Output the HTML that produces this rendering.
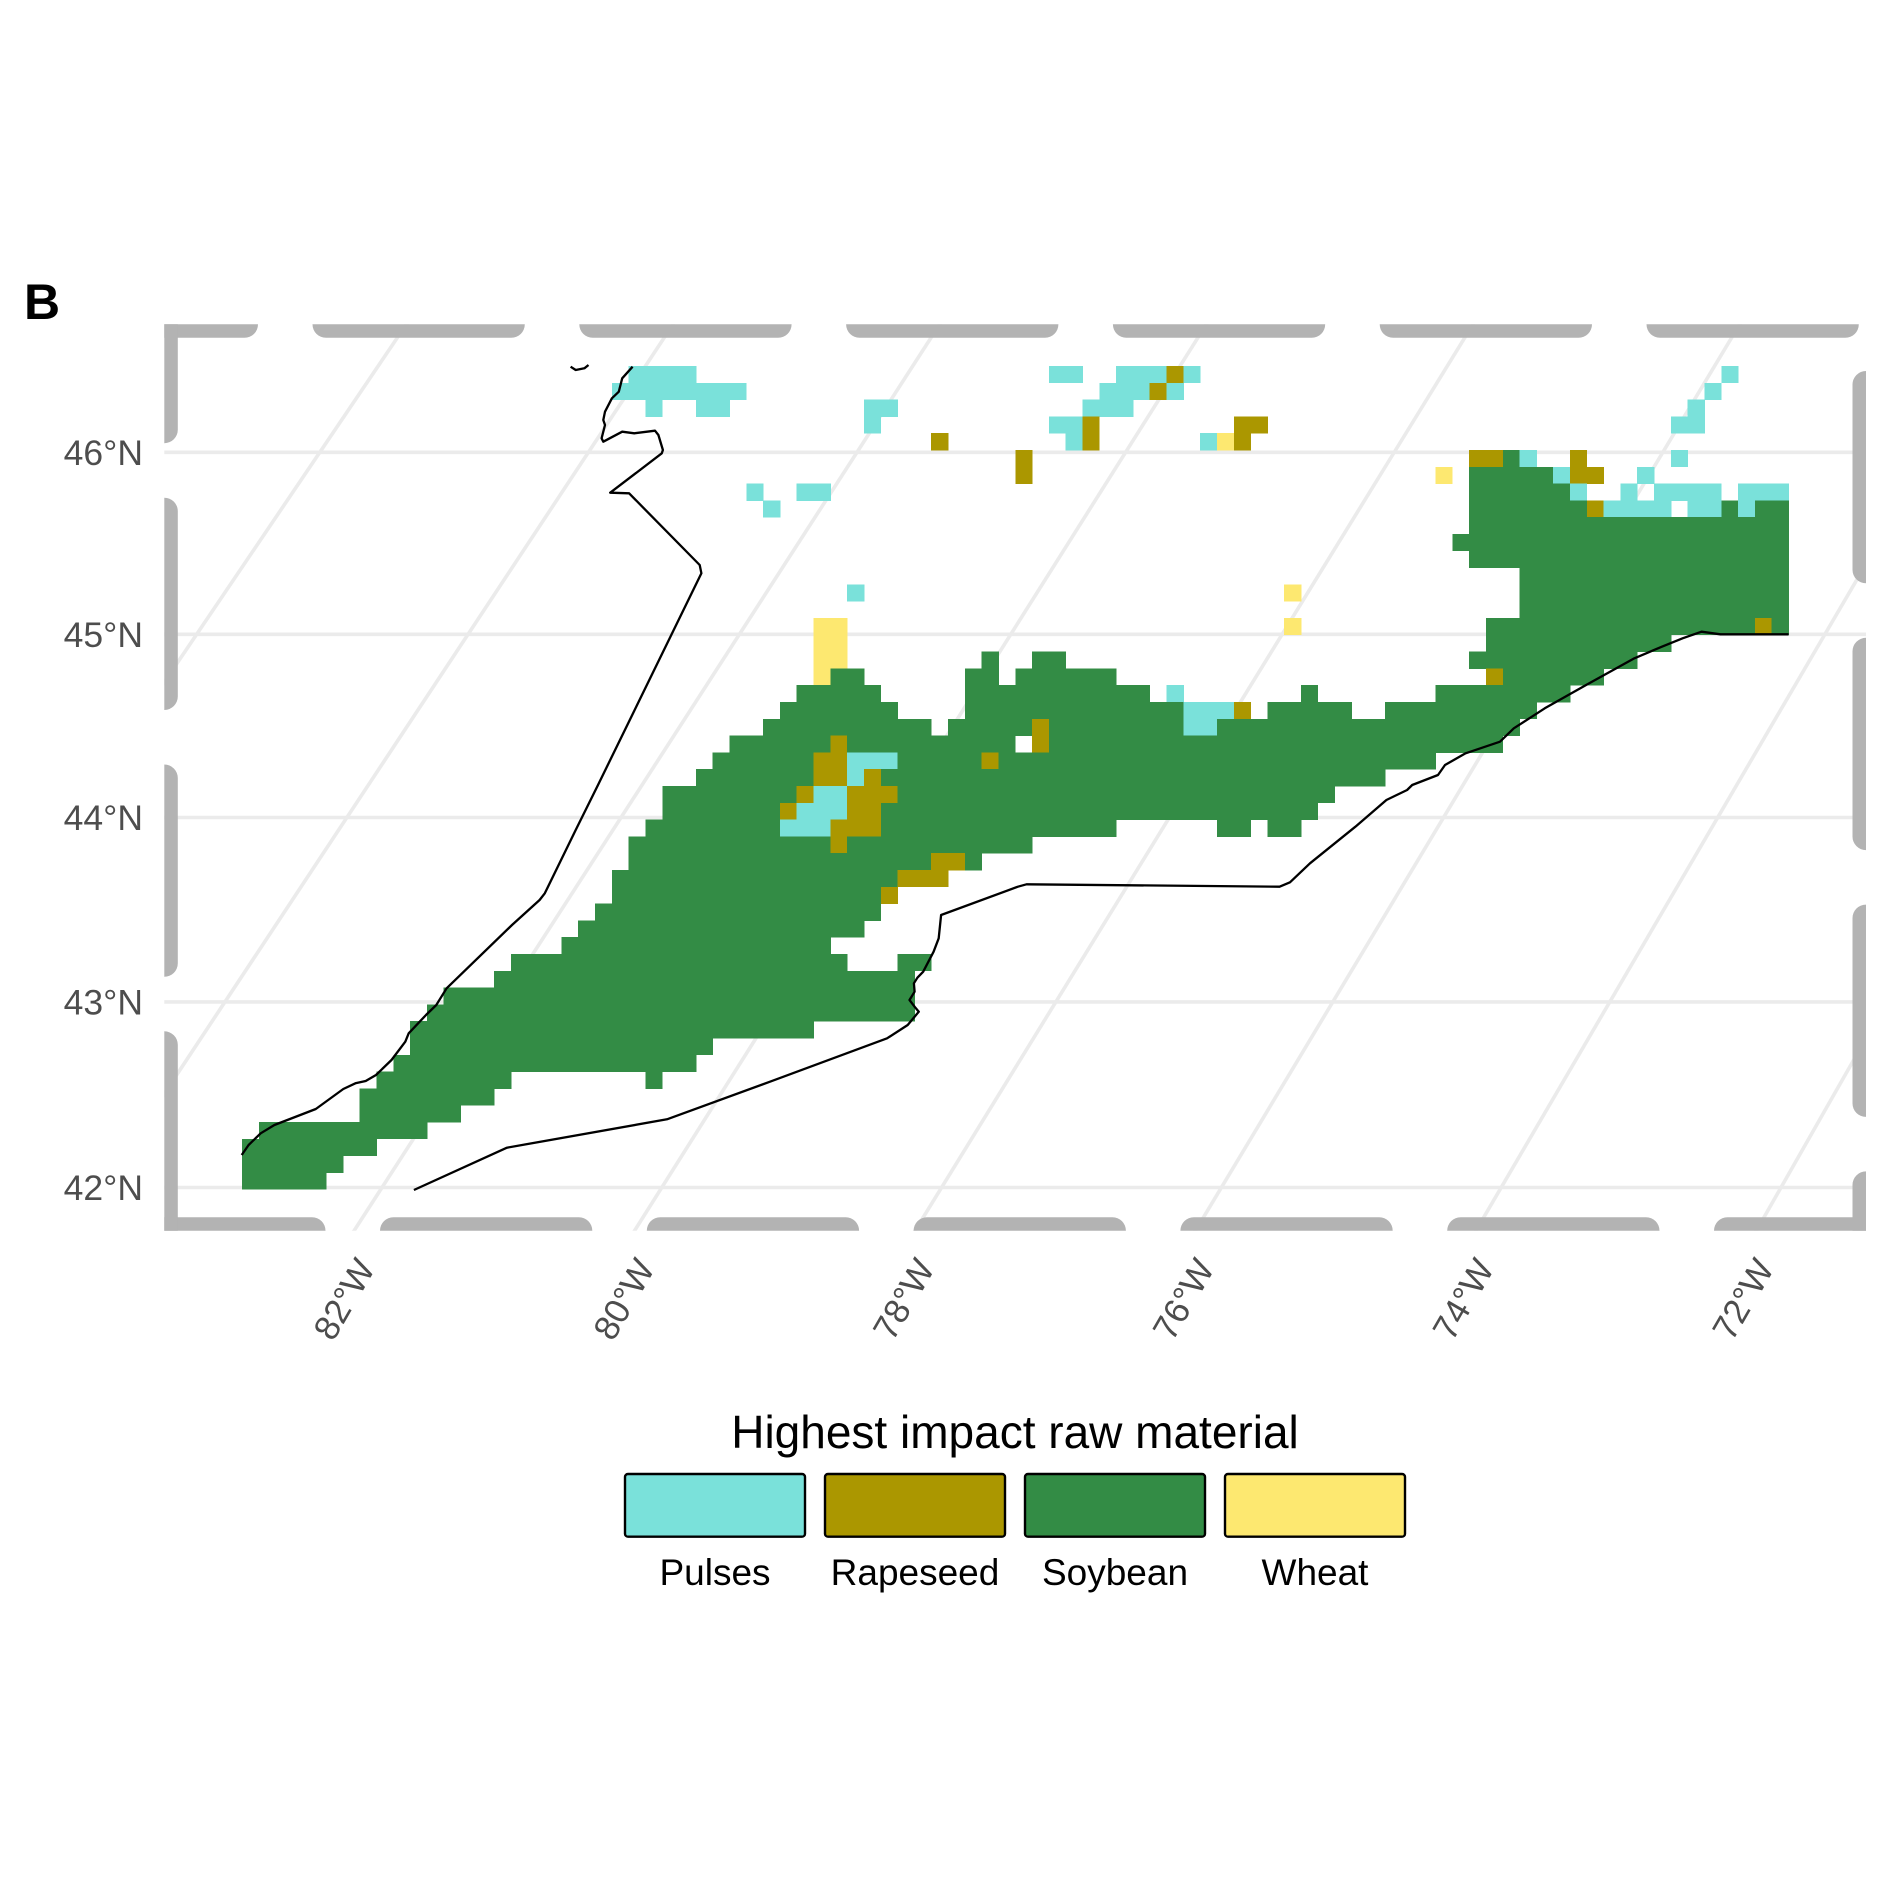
<!DOCTYPE html>
<html><head><meta charset="utf-8"><title>Highest impact raw material map</title>
<style>
html,body{margin:0;padding:0;background:#fff;}
svg{display:block;font-family:"Liberation Sans",Arial,sans-serif;}
</style></head>
<body>
<svg id="chart" xmlns="http://www.w3.org/2000/svg" width="1889" height="1889" viewBox="0 0 1889 1889">
<rect x="0" y="0" width="1889" height="1889" fill="#fff"/>
<defs><clipPath id="panelClip"><rect x="164.3" y="324.3" width="1701.7" height="906.4"/></clipPath></defs>
<text x="24" y="319" font-size="50" font-weight="bold" fill="#000">B</text>
<g id="grid" clip-path="url(#panelClip)"></g>
<g id="cells" clip-path="url(#panelClip)"></g>
<g id="bounds" clip-path="url(#panelClip)" fill="none" stroke="#000" stroke-width="2.3" stroke-linejoin="round"></g>
<g id="border" clip-path="url(#panelClip)" stroke="#b3b3b3" stroke-width="27" stroke-linecap="round" stroke-dasharray="185.3 81.5" fill="none"></g>
<g id="ylabels" font-size="35.5" fill="#4d4d4d" text-anchor="end"></g>
<g id="xlabels" font-size="35" fill="#4d4d4d" text-anchor="end"></g>
<g id="legend">
<text x="1015" y="1448" font-size="46" text-anchor="middle" fill="#000">Highest impact raw material</text>
</g>
</svg>
<script>
// ---- data ----
const latTicks = [46, 45, 44, 43, 42];
const latLabels = ["46°N", "45°N", "44°N", "43°N", "42°N"];
const lonTicks = [-82, -80, -78, -76, -74, -72];
const lonLabels = ["82°W", "80°W", "78°W", "76°W", "74°W", "72°W"];
const meridians = [-88, -86, -84, -82, -80, -78, -76, -74, -72, -70];
const categories = ["Pulses", "Rapeseed", "Soybean", "Wheat"];
const categoryCodes = ["P", "R", "S", "W"];
const categoryColors = ["#7ae1da", "#ab9700", "#338c45", "#fde870"];
// raster runs: [row, firstCol, lastCol, category]
const cellRuns = [
[0,23,26,'P'],[0,48,49,'P'],[0,52,54,'P'],[0,55,55,'R'],[0,56,56,'P'],[0,88,88,'P'],
[1,22,29,'P'],[1,51,53,'P'],[1,54,54,'R'],[1,55,55,'P'],[1,87,87,'P'],
[2,24,24,'P'],[2,27,28,'P'],[2,37,38,'P'],[2,50,52,'P'],[2,86,86,'P'],
[3,37,37,'P'],[3,48,49,'P'],[3,50,50,'R'],[3,59,60,'R'],[3,85,86,'P'],
[4,41,41,'R'],[4,49,49,'P'],[4,50,50,'R'],[4,57,57,'P'],[4,58,58,'W'],[4,59,59,'R'],
[5,46,46,'R'],[5,73,74,'R'],[5,75,75,'S'],[5,76,76,'P'],[5,79,79,'R'],[5,85,85,'P'],
[6,46,46,'R'],[6,71,71,'W'],[6,73,77,'S'],[6,78,78,'P'],[6,79,80,'R'],[6,83,83,'P'],
[7,30,30,'P'],[7,33,34,'P'],[7,73,78,'S'],[7,79,79,'P'],[7,82,82,'P'],[7,84,87,'P'],[7,89,91,'P'],
[8,31,31,'P'],[8,73,79,'S'],[8,80,80,'R'],[8,81,84,'P'],[8,86,87,'P'],[8,88,88,'S'],[8,89,89,'P'],[8,90,91,'S'],
[9,73,91,'S'],[10,72,91,'S'],[11,73,91,'S'],[12,76,91,'S'],
[13,36,36,'P'],[13,62,62,'W'],[13,76,91,'S'],
[14,76,91,'S'],
[15,34,35,'W'],[15,62,62,'W'],[15,74,89,'S'],[15,90,90,'R'],[15,91,91,'S'],
[16,34,35,'W'],[16,74,84,'S'],
[17,34,35,'W'],[17,44,44,'S'],[17,47,48,'S'],[17,73,82,'S'],
[18,34,34,'W'],[18,35,36,'S'],[18,43,44,'S'],[18,46,51,'S'],[18,74,74,'R'],[18,75,80,'S'],
[19,33,37,'S'],[19,43,53,'S'],[19,55,55,'P'],[19,63,63,'S'],[19,71,78,'S'],
[20,32,38,'S'],[20,43,55,'S'],[20,56,58,'P'],[20,59,59,'R'],[20,61,65,'S'],[20,68,76,'S'],
[21,31,40,'S'],[21,42,46,'S'],[21,47,47,'R'],[21,48,55,'S'],[21,56,57,'P'],[21,58,75,'S'],
[22,29,34,'S'],[22,35,35,'R'],[22,36,45,'S'],[22,47,47,'R'],[22,48,74,'S'],
[23,28,33,'S'],[23,34,35,'R'],[23,36,38,'P'],[23,39,43,'S'],[23,44,44,'R'],[23,45,70,'S'],
[24,27,33,'S'],[24,34,35,'R'],[24,36,36,'P'],[24,37,37,'R'],[24,38,67,'S'],
[25,25,32,'S'],[25,33,33,'R'],[25,34,35,'P'],[25,36,38,'R'],[25,39,64,'S'],
[26,25,31,'S'],[26,32,32,'R'],[26,33,35,'P'],[26,36,37,'R'],[26,38,63,'S'],
[27,24,31,'S'],[27,32,34,'P'],[27,35,37,'R'],[27,38,51,'S'],[27,58,59,'S'],[27,61,62,'S'],
[28,23,34,'S'],[28,35,35,'R'],[28,36,46,'S'],
[29,23,40,'S'],[29,41,42,'R'],[29,43,43,'S'],
[30,22,38,'S'],[30,39,41,'R'],
[31,22,37,'S'],[31,38,38,'R'],
[32,21,37,'S'],[33,20,36,'S'],[34,19,34,'S'],
[35,16,35,'S'],[35,39,40,'S'],
[36,15,39,'S'],[37,12,39,'S'],[38,11,39,'S'],[39,10,33,'S'],[40,10,27,'S'],[41,9,26,'S'],
[42,8,15,'S'],[42,24,24,'S'],
[43,7,14,'S'],[44,7,12,'S'],[45,1,10,'S'],[46,0,7,'S'],[47,0,5,'S'],[48,0,4,'S']
];
// boundary polylines (pixel traces of coastline / border)
const borderNorth = [[588.5,365],[584.4,368.3],[575.7,370],[570.6,366.7]];
const borderWest = [[632.6,366.7],[622.2,378.3],[618.8,391.7],[611.9,398.3],[605,411.7],[603.3,420],[605,425],[601.6,438.3],[603.3,441.7],[622.2,431.7],[634.3,433.3],[655,430.7],[658.4,435],[662.9,450],[661.8,453.3],[610.2,492.7],[629.1,493.3],[699.7,565],[701.4,573.3],[598,785],[575.7,830],[544.8,893.3],[539.6,900],[512,925],[446.6,988.3],[436.3,1005],[426,1015],[408.7,1033.3],[405.3,1041.7],[391.5,1060],[376,1075],[365.7,1081],[355.4,1083.3],[343.3,1089],[315.8,1109],[274.4,1125],[260.7,1133.3],[248.6,1145],[241.7,1155]];
const borderSouth = [[413.9,1190],[506.9,1147.7],[667,1119.3],[770,1081.7],[887.1,1038.3],[907.7,1025],[918.8,1011.7],[914.6,1006.7],[909.5,1000],[914.6,991.7],[913.9,983.3],[917.4,977.7],[923.2,971.7],[933.6,951.7],[938.7,938.3],[941.1,915],[1017.9,886.7],[1026.5,884.3],[1279.6,886.7],[1290,882.3],[1310,863.3],[1355.4,826.7],[1386.4,800],[1407.1,790],[1412.2,785],[1438,775],[1445,765],[1465.6,753.3],[1500,741.7],[1513.8,728.3],[1544.8,708.3],[1586.1,685],[1634.4,658.3],[1661.9,646.7],[1682.6,638.3],[1701.5,631.7],[1720.4,634.3],[1788.6,634.3]];

// ---- scales ----
const NS = "http://www.w3.org/2000/svg";
function xCol(c){ return 242 + c*16.81; }
function yRow(r){ return 366 + r*16.8; }
function yLat(lat){ const d = 46-lat; return 452.3 + d*182 + d*(d-1)/2*1.2; }
function xTop46(lon){ return 857 + (lon+82)/2*268.6; }
function xBot42(lon){ return 382 + (lon+82)/2*279.8; }
function el(tag, attrs, parent){ const e=document.createElementNS(NS,tag); for(const k in attrs) e.setAttribute(k,attrs[k]); parent.appendChild(e); return e; }

// ---- graticule ----
const grid = document.getElementById('grid');
latTicks.forEach((lat,i)=>{
  const y = yLat(lat);
  const l = el('line',{x1:160,x2:1870,y1:y,y2:y,stroke:'#ebebeb','stroke-width':3.6},grid);
  
  
});
meridians.forEach(lon=>{
  const xt = xTop46(lon), xb = xBot42(lon), yt = yLat(46), yb = yLat(42);
  const k = (xt-xb)/(yt-yb);
  const yA = 300, yB = 1260;
  const l = el('line',{x1: xb + k*(yA-yb), y1:yA, x2: xb + k*(yB-yb), y2:yB, stroke:'#ebebeb','stroke-width':3.6},grid);
  
  
});

// ---- cells ----
const cells = document.getElementById('cells');
cellRuns.forEach(run=>{
  const [r,c0,c1,code] = run;
  const ci = categoryCodes.indexOf(code);
  const x0 = xCol(c0), x1 = xCol(c1+1), y0 = yRow(r), y1 = yRow(r+1);
  const rc = el('rect',{x:x0, y:y0, width:x1-x0+0.4, height:y1-y0+0.4, fill:categoryColors[ci], 'shape-rendering':'crispEdges'},cells);
  
  
});

// ---- boundaries ----
const bounds = document.getElementById('bounds');
[[borderNorth,'coast-north'],[borderWest,'border-west'],[borderSouth,'border-south']].forEach(([pts,name])=>{
  const p = el('polyline',{points: pts.map(q=>q.join(',')).join(' ')},bounds);
  
  
});

// ---- panel border (dashed, clipped) ----
const border = document.getElementById('border');
const sides = [
  ['top',164.3,324.3,1866,324.3,105.1],
  ['bottom',164.3,1230.7,1866,1230.7,37.6],
  ['left',164.3,324.3,164.3,1230.7,79.9],
  ['right',1866,324.3,1866,1230.7,206.6]
];
sides.forEach(s=>{
  const l = el('line',{x1:s[1],y1:s[2],x2:s[3],y2:s[4],'stroke-dashoffset':s[5]},border);
  
  
});

// ---- axis labels ----
const yl = document.getElementById('ylabels');
latTicks.forEach((lat,i)=>{
  const t = el('text',{x:143, y:yLat(lat)+12.5},yl);
  t.textContent = latLabels[i];
  
  
});
const xl = document.getElementById('xlabels');
lonTicks.forEach((lon,i)=>{
  const ax = xBot42(lon)-6, ay = 1268;
  const t = el('text',{x:ax, y:ay, transform:'rotate(-60 '+ax+' '+ay+')'},xl);
  t.textContent = lonLabels[i];
  
  
});

// ---- legend ----
const lg = document.getElementById('legend');
categories.forEach((c,i)=>{
  const x = 625 + i*200;
  const r = el('rect',{x:x, y:1474, width:180, height:62.7, rx:3, fill:categoryColors[i], stroke:'#000','stroke-width':2.4},lg);
  
  
  const t = el('text',{x:x+90, y:1585, 'font-size':37, 'text-anchor':'middle', fill:'#000'},lg);
  t.textContent = c;
  
  
});
</script>
</body></html>
